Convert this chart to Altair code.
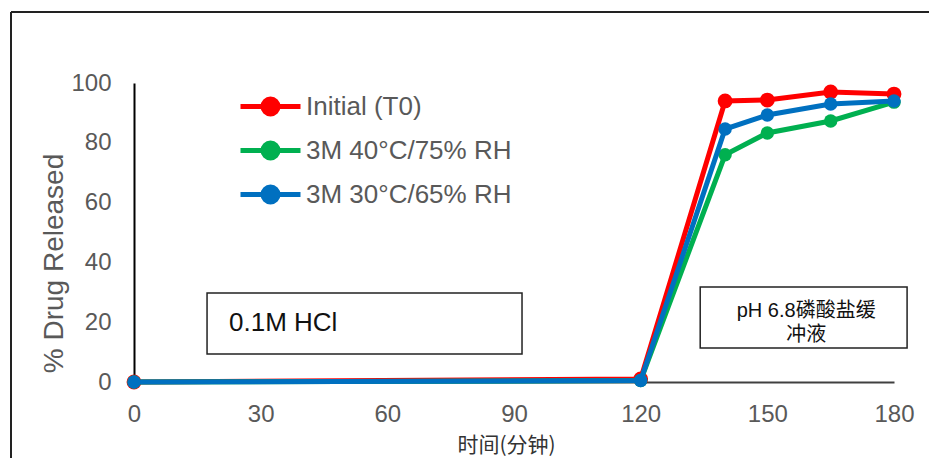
import altair as alt
import pandas as pd

times = [0, 120, 140, 150, 165, 180]
series_names = ["Initial (T0)", "3M 40°C/75% RH", "3M 30°C/65% RH"]
initial_t0 = [0, 1.0, 94.0, 94.3, 97.0, 96.3]
m3_40c = [0, 0.5, 76.0, 83.3, 87.3, 93.6]
m3_30c = [0, 0.5, 84.6, 89.3, 93.0, 94.0]
series_colors = ["#FF0000", "#00B050", "#0070C0"]

# annotation boxes (data coordinates)
box_labels = ["0.1M HCl", "pH 6.8磷酸盐缓\n冲液"]
box_x1 = [17.3, 134.1]
box_x2 = [91.9, 183.1]
box_y1 = [9.4, 11.4]
box_y2 = [29.8, 31.8]

rows = []
for name, vals in zip(series_names, [initial_t0, m3_40c, m3_30c]):
    for t, v in zip(times, vals):
        rows.append({"time": t, "released": v, "series": name})
df = pd.DataFrame(rows)

color = alt.Color(
    "series:N",
    scale=alt.Scale(domain=series_names, range=series_colors),
    legend=alt.Legend(
        title=None, orient="none", legendX=119, legendY=6,
        symbolType="M-2,0L2,0M0.5,0A0.5,0.5,0,1,1,-0.5,0A0.5,0.5,0,1,1,0.5,0Z",
        symbolSize=900, symbolStrokeWidth=5, labelOffset=18, labelLimit=0,
        labelFontSize=26, labelColor="#595959", labelFont="Liberation Sans",
        rowPadding=9,
    ),
)

x = alt.X("time:Q", scale=alt.Scale(domain=[0, 180]),
          axis=alt.Axis(values=[0, 30, 60, 90, 120, 150, 180], grid=False, ticks=False, tickSize=0,
                        labelPadding=20, labelFontSize=24, labelColor="#595959", labelFlush=False,
                        labelFont="Liberation Sans", domainColor="#404040", domainWidth=2,
                        title="时间(分钟)", titleFont="Noto Sans CJK SC", titleFontSize=21,
                        titleFontWeight="normal", titleColor="#333333", titleX=372, titleY=63,
                        titleBaseline="middle"))
y = alt.Y("released:Q", scale=alt.Scale(domain=[0, 100]),
          axis=alt.Axis(values=[0, 20, 40, 60, 80, 100], grid=False, ticks=False, tickSize=0,
                        labelPadding=23, labelFontSize=24, labelColor="#595959", labelFlush=False,
                        labelFont="Liberation Sans", domainColor="#000000", domainWidth=2,
                        title="% Drug Released", titleFont="Liberation Sans", titleFontSize=28,
                        titleFontWeight="normal", titleColor="#595959", titleAngle=-90,
                        titleX=-80, titleY=180, titleAlign="center", titleBaseline="middle"))

layers = []
for i, name in enumerate(series_names):
    sub = alt.Chart(df).transform_filter(alt.datum.series == name)
    layers.append(sub.mark_line(strokeWidth=5).encode(x=x, y=y, color=color))
    layers.append(sub.mark_point(filled=True, size=220 if i == 0 else 180, opacity=1).encode(x=x, y=y, color=color))

boxes = pd.DataFrame({"label": box_labels, "x1": box_x1, "x2": box_x2, "y1": box_y1, "y2": box_y2})
box_layer = alt.Chart(boxes).mark_rect(fill="white", stroke="#222222", strokeWidth=1.5).encode(
    x="x1:Q", x2="x2:Q", y="y1:Q", y2="y2:Q")

hcl = pd.DataFrame({"label": [box_labels[0]], "x": [22.5], "y": [19.7]})
hcl_text = alt.Chart(hcl).mark_text(align="left", baseline="middle", fontSize=26,
                                    font="Liberation Sans", color="#111111").encode(
    x="x:Q", y="y:Q", text="label:N")
ph = pd.DataFrame({"label": [box_labels[1].split("\n")], "x": [159.2], "y": [23.7]})
ph_text = alt.Chart(ph).mark_text(align="center", baseline="middle", fontSize=20, lineHeight=24,
                                  font="Liberation Sans, Noto Sans CJK SC", color="#111111").encode(
    x="x:Q", y="y:Q", text="label")

frame_left = alt.Chart(pd.DataFrame({"a": [0]})).mark_rule(color="#222222", strokeWidth=2).encode(
    x=alt.value(-123), y=alt.value(-71), y2=alt.value(420))
frame_top = alt.Chart(pd.DataFrame({"a": [0]})).mark_rule(color="#222222", strokeWidth=2).encode(
    x=alt.value(-123), x2=alt.value(850), y=alt.value(-71))

chart = alt.layer(frame_left, frame_top, box_layer, hcl_text, ph_text, *layers).properties(
    width=760, height=299,
    autosize=alt.AutoSizeParams(type="none"),
    padding={"left": 126, "top": 75, "right": 35, "bottom": 76},
).configure(background="white").configure_view(stroke=None)

chart.save("out.html", embed_options={"renderer": "svg", "actions": False})
